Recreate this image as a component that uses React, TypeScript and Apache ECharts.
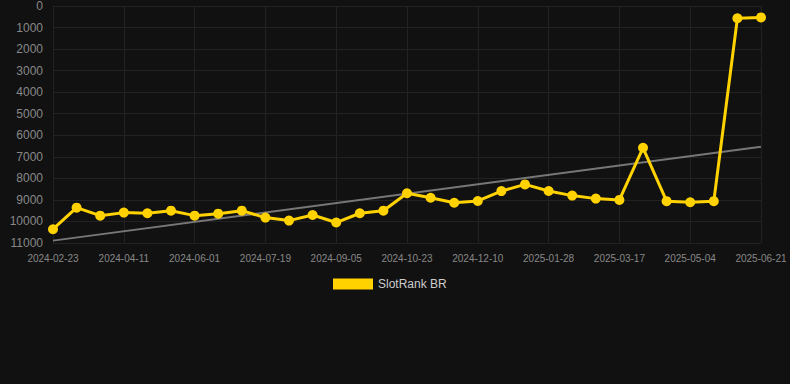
import React, { useEffect, useRef } from "react";
import * as echarts from "echarts";

const categories = [
  "2024-02-23", "2024-03-10", "2024-03-26", "2024-04-11", "2024-04-28", "2024-05-15",
  "2024-06-01", "2024-06-17", "2024-07-03", "2024-07-19", "2024-08-04", "2024-08-20",
  "2024-09-05", "2024-09-21", "2024-10-07", "2024-10-23", "2024-11-08", "2024-11-24",
  "2024-12-10", "2024-12-26", "2025-01-12", "2025-01-28", "2025-02-13", "2025-03-01",
  "2025-03-17", "2025-04-02", "2025-04-18", "2025-05-04", "2025-05-20", "2025-06-05",
  "2025-06-21",
];

const rankValues = [
  10360, 9360, 9730, 9590, 9620, 9500, 9730, 9640, 9500, 9820, 9960, 9700,
  10050, 9620, 9500, 8690, 8900, 9130, 9050, 8590, 8280, 8585, 8800, 8940,
  9000, 6580, 9060, 9110, 9060, 570, 530,
];

const trendStart = 10890;
const trendEnd = 6530;

const seriesName = "SlotRank BR";

export default function App() {
  const ref = useRef<HTMLDivElement>(null);
  useEffect(() => {
    if (!ref.current) return;
    const chart = echarts.init(ref.current, undefined, { renderer: "svg" });
    const trendData = categories.map((_, i) =>
      i === 0 ? trendStart : i === categories.length - 1 ? trendEnd : null
    );
    chart.setOption({
      animation: false,
      backgroundColor: "#111111",
      grid: { left: 53, right: 29, top: 6, bottom: 141, containLabel: false },
      legend: {
        top: 278,
        left: 333,
        data: [{ name: seriesName, icon: "rect" }],
        itemWidth: 40,
        itemHeight: 11,
        itemGap: 5,
        padding: 0,
        textStyle: { color: "#cccccc", fontSize: 12, fontFamily: "Liberation Sans, Arial, sans-serif" },
      },
      xAxis: {
        type: "category",
        data: categories,
        boundaryGap: false,
        axisLine: { show: false },
        axisTick: { show: false },
        axisLabel: {
          interval: 2,
          color: "#888888",
          fontSize: 10,
          margin: 10,
          fontFamily: "Liberation Sans, Arial, sans-serif",
        },
        splitLine: { show: true, interval: 2, lineStyle: { color: "#222222", width: 1 } },
      },
      yAxis: {
        type: "value",
        inverse: true,
        min: 0,
        max: 11000,
        interval: 1000,
        axisLine: { show: false },
        axisTick: { show: false },
        axisLabel: {
          color: "#888888",
          fontSize: 12,
          margin: 10,
          formatter: (v: number) => String(v),
          fontFamily: "Liberation Sans, Arial, sans-serif",
        },
        splitLine: { show: true, lineStyle: { color: "#222222", width: 1 } },
      },
      series: [
        {
          name: seriesName,
          type: "line",
          data: rankValues,
          symbol: "circle",
          symbolSize: 10,
          lineStyle: { color: "#FFD200", width: 3 },
          itemStyle: { color: "#FFD200" },
          z: 3,
        },
        {
          name: "trend",
          type: "line",
          data: trendData,
          connectNulls: true,
          symbol: "none",
          lineStyle: { color: "#777777", width: 2 },
          itemStyle: { color: "#777777" },
          z: 2,
        },
      ],
    });
    return () => chart.dispose();
  }, []);
  return (
    <div
      ref={ref}
      style={{ position: "fixed", left: 0, top: 0, width: 790, height: 384 }}
    />
  );
}
